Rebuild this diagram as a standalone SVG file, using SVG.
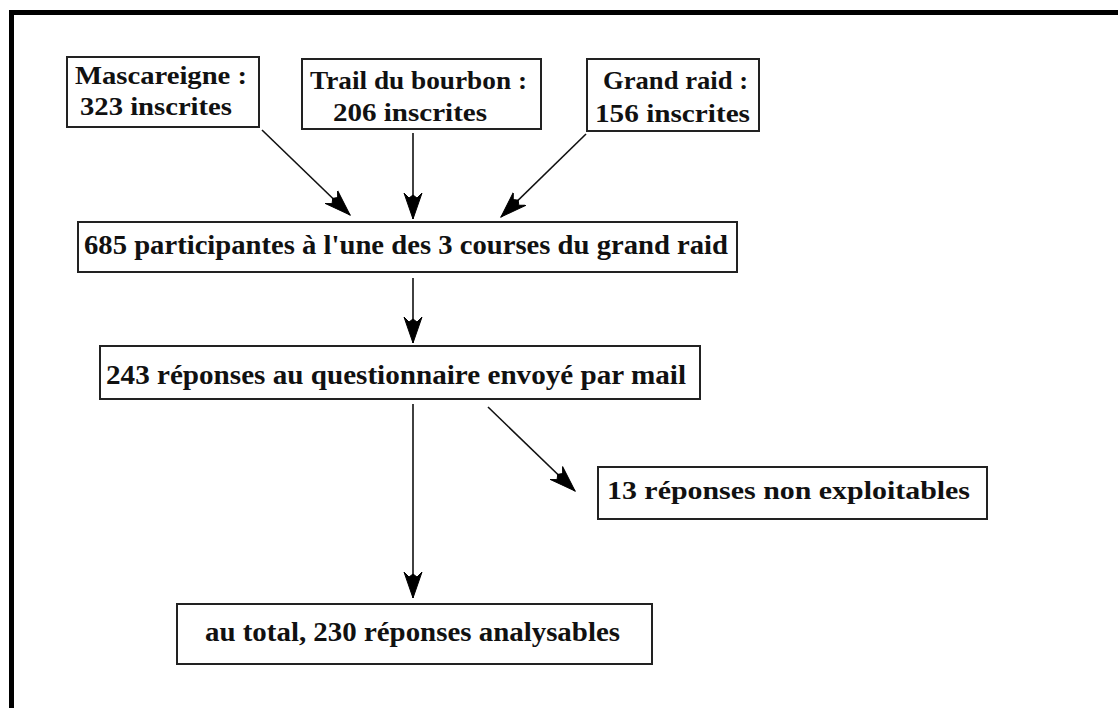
<svg xmlns="http://www.w3.org/2000/svg" width="1118" height="708" viewBox="0 0 1118 708">
<defs>
<marker id="ah" markerWidth="28" markerHeight="22" refX="26" refY="11" orient="auto" markerUnits="userSpaceOnUse" viewBox="0 0 28 22">
<path d="M0,2 L26,11 L0,20 L5,15 L2,11 L5,7 Z" fill="#000" stroke="#000" stroke-width="1"/>
</marker>
</defs>
<rect width="1118" height="708" fill="#fff"/>
<path d="M11.5,708 V12.5 H1118" fill="none" stroke="#000" stroke-width="5"/>
<g id="connectors" stroke="#111" stroke-width="1.6" fill="none">
<line x1="262" y1="130" x2="350" y2="215" marker-end="url(#ah)"/>
<line x1="413" y1="133" x2="413" y2="219" marker-end="url(#ah)"/>
<line x1="586" y1="134" x2="501" y2="217" marker-end="url(#ah)"/>
<line x1="413" y1="278" x2="413" y2="343" marker-end="url(#ah)"/>
<line x1="413" y1="404" x2="413" y2="598" marker-end="url(#ah)"/>
<line x1="488" y1="407" x2="575" y2="491" marker-end="url(#ah)"/>
</g>
<g font-family="'Times New Roman', 'Liberation Serif', serif" font-weight="bold" fill="#111">
<g id="n-mascareigne">
<rect x="67" y="57" width="192" height="70" fill="#fff" stroke="#222" stroke-width="2"/>
<text font-size="25" x="75" y="84" textLength="172" lengthAdjust="spacingAndGlyphs">Mascareigne :</text>
<text font-size="25" x="80" y="115" textLength="152" lengthAdjust="spacingAndGlyphs">323 inscrites</text>
</g>
<g id="n-trail">
<rect x="302" y="59" width="239" height="70" fill="#fff" stroke="#222" stroke-width="2"/>
<text font-size="25" x="310" y="89" textLength="217" lengthAdjust="spacingAndGlyphs">Trail du bourbon :</text>
<text font-size="25" x="333" y="121" textLength="154" lengthAdjust="spacingAndGlyphs">206 inscrites</text>
</g>
<g id="n-grandraid">
<rect x="587" y="59" width="172" height="72" fill="#fff" stroke="#222" stroke-width="2"/>
<text font-size="25" x="603" y="89" textLength="145" lengthAdjust="spacingAndGlyphs">Grand raid :</text>
<text font-size="25" x="595" y="122" textLength="155" lengthAdjust="spacingAndGlyphs">156 inscrites</text>
</g>
<g id="n-685">
<rect x="78" y="222" width="659" height="50" fill="#fff" stroke="#222" stroke-width="2"/>
<text font-size="27" x="84" y="254" textLength="644" lengthAdjust="spacingAndGlyphs">685 participantes à l'une des 3 courses du grand raid</text>
</g>
<g id="n-243">
<rect x="100" y="346" width="600" height="53" fill="#fff" stroke="#222" stroke-width="2"/>
<text font-size="27" x="106" y="384" textLength="580" lengthAdjust="spacingAndGlyphs">243 réponses au questionnaire envoyé par mail</text>
</g>
<g id="n-13">
<rect x="598" y="467" width="389" height="52" fill="#fff" stroke="#222" stroke-width="2"/>
<text font-size="25" x="607" y="499" textLength="363" lengthAdjust="spacingAndGlyphs">13 réponses non exploitables</text>
</g>
<g id="n-230">
<rect x="177" y="604" width="475" height="60" fill="#fff" stroke="#222" stroke-width="2"/>
<text font-size="27" x="205" y="641" textLength="415" lengthAdjust="spacingAndGlyphs">au total, 230 réponses analysables</text>
</g>
</g>
</svg>
